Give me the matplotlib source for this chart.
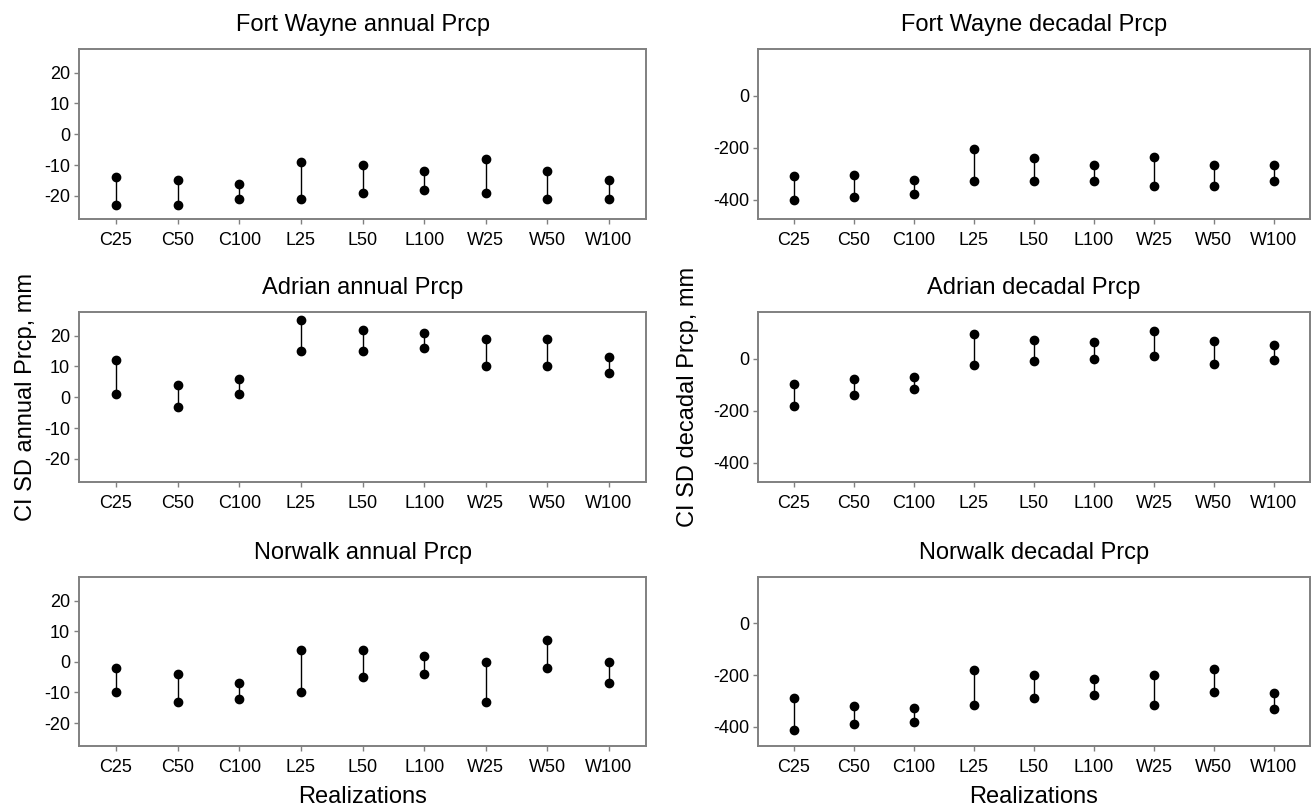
import matplotlib
matplotlib.use("Agg")
import matplotlib.pyplot as plt

plt.rcParams['font.family'] = ['Liberation Sans', 'DejaVu Sans']
plt.rcParams['axes.unicode_minus'] = False

REALIZATIONS = ['C25', 'C50', 'C100', 'L25', 'L50', 'L100', 'W25', 'W50', 'W100']

# upper / lower confidence bounds of the SD change, mm
FW_ANNUAL_HI = [-14, -15, -16, -9, -10, -12, -8, -12, -15]
FW_ANNUAL_LO = [-23, -23, -21, -21, -19, -18, -19, -21, -21]
FW_DECADAL_HI = [-309, -305, -325, -204, -242, -268, -238, -268, -266]
FW_DECADAL_LO = [-401, -391, -380, -330, -330, -327, -349, -349, -327]

AD_ANNUAL_HI = [12, 4, 6, 25, 22, 21, 19, 19, 13]
AD_ANNUAL_LO = [1, -3, 1, 15, 15, 16, 10, 10, 8]
AD_DECADAL_HI = [-99, -80, -71, 97, 72, 66, 107, 68, 53]
AD_DECADAL_LO = [-181, -138, -115, -25, -9, 0, 12, -21, -4]

NW_ANNUAL_HI = [-2, -4, -7, 4, 4, 2, 0, 7, 0]
NW_ANNUAL_LO = [-10, -13, -12, -10, -5, -4, -13, -2, -7]
NW_DECADAL_HI = [-290, -321, -329, -181, -200, -214, -200, -177, -268]
NW_DECADAL_LO = [-412, -388, -381, -315, -289, -279, -315, -266, -332]

PANELS = [
    ('Fort Wayne annual Prcp', FW_ANNUAL_HI, FW_ANNUAL_LO, 'annual'),
    ('Fort Wayne decadal Prcp', FW_DECADAL_HI, FW_DECADAL_LO, 'decadal'),
    ('Adrian annual Prcp', AD_ANNUAL_HI, AD_ANNUAL_LO, 'annual'),
    ('Adrian decadal Prcp', AD_DECADAL_HI, AD_DECADAL_LO, 'decadal'),
    ('Norwalk annual Prcp', NW_ANNUAL_HI, NW_ANNUAL_LO, 'annual'),
    ('Norwalk decadal Prcp', NW_DECADAL_HI, NW_DECADAL_LO, 'decadal'),
]

YLIMS = {'annual': (-27.5, 27.7), 'decadal': (-475, 180)}
YTICKS = {'annual': [-20, -10, 0, 10, 20], 'decadal': [-400, -200, 0]}

# axes rectangles in figure fraction: two columns, three rows
COL_X = [(0.0602, 0.4318), (0.5773, 0.4204)]
ROW_Y = [(0.7290, 0.2104), (0.4035, 0.2104), (0.0767, 0.2092)]

FRAME = '#808080'

fig = plt.figure(figsize=(13.13, 8.08), dpi=100)
fig.patch.set_facecolor('white')

x = list(range(1, len(REALIZATIONS) + 1))
for i, (title, hi, lo, kind) in enumerate(PANELS):
    row, col = divmod(i, 2)
    left, width = COL_X[col]
    bottom, height = ROW_Y[row]
    ax = fig.add_axes([left, bottom, width, height])

    ax.vlines(x, lo, hi, color='black', linewidth=1.0)
    ax.plot(x, hi, 'o', color='black', markersize=6)
    ax.plot(x, lo, 'o', color='black', markersize=6)

    ax.set_xlim(0.4, 9.6)
    ax.set_ylim(*YLIMS[kind])
    ax.set_yticks(YTICKS[kind])
    ax.set_xticks(x, REALIZATIONS)
    ax.tick_params(axis='both', labelsize=13, length=3.5, width=1.0,
                   color=FRAME, labelcolor='black', pad=3)
    ax.tick_params(axis='x', pad=6)
    for spine in ax.spines.values():
        spine.set_color(FRAME)
        spine.set_linewidth(1.4)
    ax.set_title(title, fontsize=17, pad=13)

    if row == 2:
        ax.set_xlabel('Realizations', fontsize=17, labelpad=7)

fig.text(0.0198, 0.5087, 'CI SD annual Prcp, mm', rotation=90,
         ha='center', va='center', fontsize=17)
fig.text(0.524, 0.5087, 'CI SD decadal Prcp, mm', rotation=90,
         ha='center', va='center', fontsize=17)

fig.savefig('out.png', dpi=100, facecolor='white')
